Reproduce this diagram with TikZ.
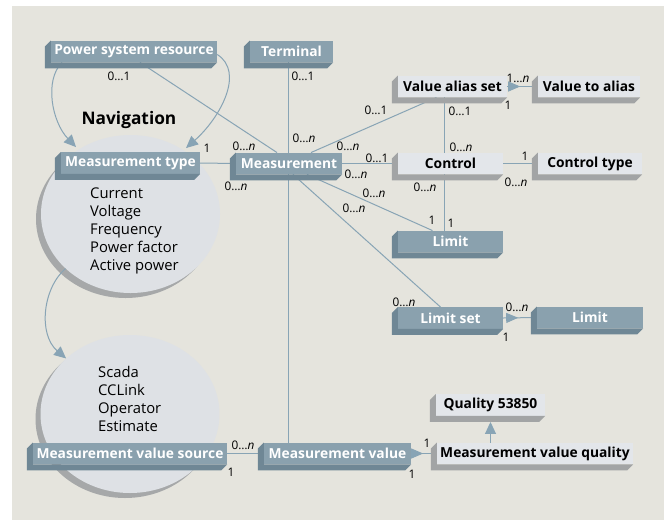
\documentclass[tikz,border=0pt]{standalone}
\usepackage{fontspec}
\setmainfont{Open Sans}
\usetikzlibrary{arrows.meta,positioning,backgrounds,shapes.geometric,shadows,decorations.markings}
\definecolor{paper}{HTML}{E5E4DD}
\definecolor{steel}{HTML}{8AA1AE}
\definecolor{steelside}{HTML}{6F8795}
\definecolor{pale}{HTML}{E3E6EA}
\definecolor{paleside}{HTML}{A2A4A5}
\definecolor{bubblefill}{HTML}{DEE1E5}
\definecolor{bubbleside}{HTML}{A6A8A9}
\definecolor{wirecol}{HTML}{88A4B5}
\newcommand{\zeroN}{0…\textit{n}}
\newcommand{\zeroOne}{0…1}
\newcommand{\oneN}{1…\textit{n}}

\begin{document}
\begin{tikzpicture}[
  x=1pt, y=-1pt,
  box/.style={rectangle, minimum height=21.5pt, inner sep=0pt,
              font=\bfseries\fontsize{13.8}{15}\selectfont},
  dark/.style={box, fill=steel, text=white},
  light/.style={box, fill=pale, text=black},
  bubble/.style={ellipse, fill=bubblefill, minimum width=179pt, minimum height=158pt,
                 drop shadow={shadow xshift=-5pt, shadow yshift=-5pt, opacity=1, fill=bubbleside}},
  link/.style={draw=wirecol, line width=1pt},
  arr/.style={link, -{Triangle[length=12pt, width=11pt]}},
  midarr/.style={link, postaction={decorate},
                 decoration={markings, mark=at position #1 with {\arrow[color=wirecol]{Triangle[length=12pt, width=10pt]}}}},
  card/.style={font=\fontsize{11.8}{13}\selectfont, inner sep=0pt},
  list/.style={align=left, anchor=west, inner sep=0pt, font=\fontsize{14.8}{18}\selectfont},
]
\useasboundingbox (0,0) rectangle (664,520);
\begin{scope}[on background layer]
  \fill[white] (0,0) rectangle (664,520);
  \fill[paper] (12,6) rectangle (664,520);
  \node[bubble] (kinds) at (130.5,214) {};
  \node[bubble] (sources) at (130,414) {};
\end{scope}

% classes
\node[dark, minimum width=166pt] (psr) at (134,51.5) {Power system resource};
\node[dark, minimum width=83pt] (term) at (291.5,51.5) {Terminal};
\node[dark, minimum width=139pt] (mtype) at (130.5,163) {Measurement type};
\node[dark, minimum width=106pt] (meas) at (289,163.5) {Measurement};
\node[light, minimum width=109pt] (vas) at (452.5,86.5) {Value alias set};
\node[light, minimum width=102pt] (vta) at (589,86.5) {Value to alias};
\node[light, minimum width=105pt] (ctrl) at (450.5,163.5) {Control};
\node[light, minimum width=104pt] (ctype) at (590,163.5) {Control type};
\node[dark, minimum width=105pt] (lim1) at (450.5,241.5) {Limit};
\node[dark, minimum width=105pt] (lset) at (450.5,318) {Limit set};
\node[dark, minimum width=106pt] (lim2) at (590,317.5) {Limit};
\node[light, minimum width=109pt] (qual) at (490.5,405) {Quality 53850};
\node[light, minimum width=196pt] (mvq) at (535,453.5) {Measurement value quality};
\node[dark, minimum width=147pt] (mv) at (337.5,453.5) {Measurement value};
\node[dark, minimum width=194pt] (mvs) at (130,453.5) {Measurement value source};

% bevels
\foreach \n in {psr,term,mtype,meas,lim1,lset,lim2,mv,mvs}
  \fill[steelside] (\n.north west) -- ++(-6pt,-6pt) |- ([shift={(-6pt,-6pt)}]\n.south east)
    -- (\n.south east) -- (\n.south west) -- cycle;
\foreach \n in {vas,vta,ctrl,ctype,qual,mvq}
  \fill[paleside] (\n.north west) -- ++(-6pt,-6pt) |- ([shift={(-6pt,-6pt)}]\n.south east)
    -- (\n.south east) -- (\n.south west) -- cycle;

\node[font=\bfseries\fontsize{17.3}{19}\selectfont] (nav) at (129,120) {Navigation};
\node[list] (kindlist) at (90,231) {Current\\Voltage\\Frequency\\Power factor\\Active power};
\node[list] (srclist) at (98,399) {Scada\\CCLink\\Operator\\Estimate};

% associations
\begin{scope}[on background layer]
  \draw[arr] ([xshift=-72pt]psr.south) .. controls +(-18,18) and +(-24,-25) .. ([xshift=-54.5pt,yshift=5pt]mtype.north);
  \draw[arr] ([yshift=-3pt]psr.east) .. controls +(28,17.5) and +(34,-30) .. ([xshift=55.5pt,yshift=4pt]mtype.north);
  \draw[arr] (kinds.220) .. controls +(-23,20) and +(-28,-24) .. (sources.139);
  \draw[link] ([xshift=6pt]psr.south) -- ([xshift=-12pt]meas.north);
  \draw[link] ([xshift=-3.5pt]term.south) -- ([xshift=-49.5pt]mv.north);
  \draw[link] (mtype.east) -- (meas.west);
  \draw[link] ([xshift=22pt]meas.north) -- ([xshift=-16pt]vas.south);
  \draw[link] (meas.east) -- (ctrl.west);
  \draw[link] ([xshift=18pt]meas.south) -- ([xshift=-18pt]lim1.north);
  \draw[link] ([xshift=4pt]meas.south) -- ([xshift=-10pt]lset.north);
  \draw[link] ([xshift=-8.5pt]vas.south) -- ([xshift=-6.5pt]ctrl.north);
  \draw[link] ([xshift=-6.5pt]ctrl.south) -- ([xshift=-6.5pt]lim1.north);
  \draw[link] (ctrl.east) -- (ctype.west);
  \draw[midarr=13pt] (vas.east) -- (vta.west);
  \draw[midarr=15pt] (lset.east) -- (lim2.west);
  \draw[midarr=12pt] (mv.east) -- (mvq.west);
  \draw[link] (mvs.east) -- (mv.west);
  \draw[arr] (qual.south |- mvq.north) -- ([yshift=-6pt]qual.south);
\end{scope}

% multiplicities
\foreach \px/\py/\txt [count=\i] in {
  119/76/\zeroOne, 303/76/\zeroOne, 304/138/\zeroN, 207/148/1, 244/146/\zeroN,
  236/186/\zeroN, 376/110/\zeroOne, 348/146/\zeroN, 377/158/\zeroOne, 356/174/\zeroN,
  374/193/\zeroN, 354/208/\zeroN, 432/220/1, 451/223/1, 425/187/\zeroN,
  460/111/\zeroOne, 461/147/\zeroN, 518/78/\oneN, 508/105/1, 525/156/1,
  516/182/\zeroN, 404/302/\zeroN, 517/307/\zeroN, 506/337/1, 427/443/1,
  412/474/1, 243/445/\zeroN, 231/472/1}
  \node[card] (m\i) at (\px,\py) {\txt};
\end{tikzpicture}
\end{document}
